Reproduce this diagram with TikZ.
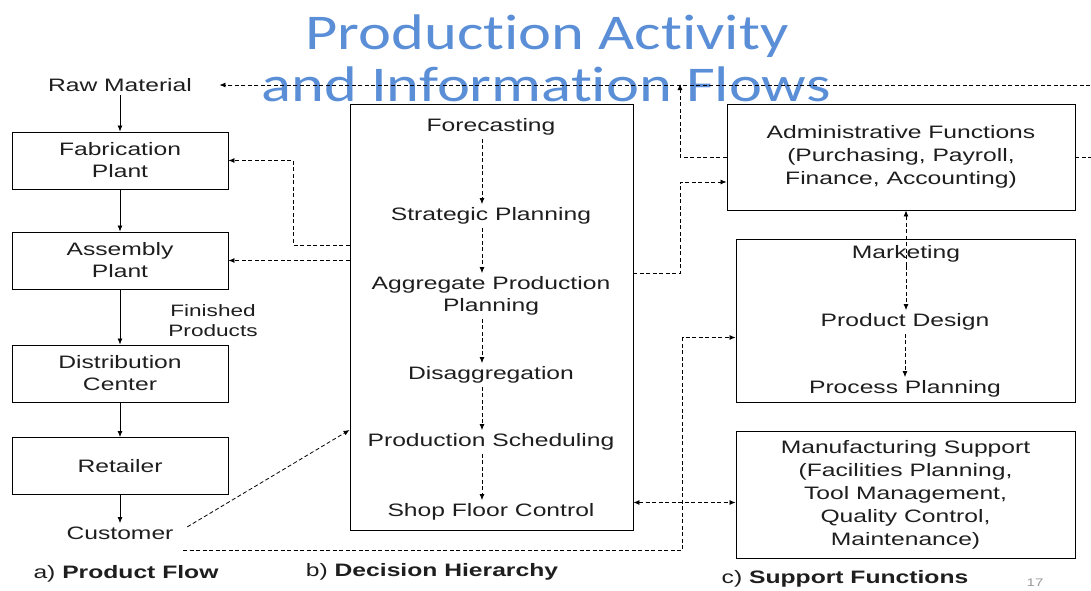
\documentclass[tikz,border=0pt]{standalone}
\usepackage{fontspec}
\setmainfont{Liberation Sans}[FakeStretch=1.37]
\newfontfamily\titlefont{Carlito}[FakeStretch=1.25, Ligatures=NoCommon]
\usetikzlibrary{arrows.meta,positioning}
\definecolor{titleblue}{RGB}{90,142,214}
\definecolor{ink}{RGB}{30,30,30}

\tikzset{
  txt/.style={align=center, text=ink, font=\fontsize{18}{22}\selectfont},
  box/.style={txt, draw, line width=0.9pt},
  pbox/.style={box, minimum width=216pt, minimum height=57pt},
  sbox/.style={box, minimum width=339pt},
  title/.style={text=titleblue, font=\titlefont\fontsize{50}{52}\selectfont},
  flow/.style={-{Latex[length=6pt,width=5pt]}, line width=0.8pt},
  info/.style={flow, dash pattern=on 4pt off 2.5pt},
}

\begin{document}
\begin{tikzpicture}[x=1pt,y=-1pt]
  \path[use as bounding box, clip] (0,0) rectangle (1091,590);

  % title
  \node[title, anchor=base] (title1) at (547,49) {Production Activity};
  \node[title, anchor=base] (title2) at (546,101) {and Information Flows};

  % a) product flow
  \node[txt] (raw) at (120,85) {Raw Material};
  \node[pbox] (fab) at (120,160.5) {Fabrication\\Plant};
  \node[pbox] (asm) at (120,260.5) {Assembly\\Plant};
  \node[txt, font=\fontsize{16.5}{20}\selectfont] (fin) at (213,321) {Finished\\Products};
  \node[pbox] (dist) at (120,373.5) {Distribution\\Center};
  \node[pbox] (ret) at (120,466) {Retailer};
  \node[txt] (cust) at (120,533) {Customer};
  \draw[flow] (raw) -- (fab);
  \draw[flow] (fab) -- (asm);
  \draw[flow] (asm) -- (dist);
  \draw[flow] (dist) -- (ret);
  \draw[flow] (ret) -- (cust);

  % b) decision hierarchy
  \node[box, minimum width=283pt, minimum height=426pt] (dec) at (491.5,317) {};
  \node[txt] (fc) at (491,127) {Forecasting};
  \node[txt] (sp) at (491,216) {Strategic Planning};
  \node[txt] (app) at (491,296) {Aggregate Production\\Planning};
  \node[txt] (dis) at (491,375) {Disaggregation};
  \node[txt] (ps) at (491,442) {Production Scheduling};
  \node[txt] (sfc) at (491,512) {Shop Floor Control};
  \draw[info] ([xshift=-9pt]fc.south) -- ([xshift=-9pt]sp.north);
  \draw[info] ([xshift=-9pt]sp.south) -- ([xshift=-9pt]app.north);
  \draw[info] ([xshift=-9pt]app.south) -- ([xshift=-9pt]dis.north);
  \draw[info] ([xshift=-9pt]dis.south) -- ([xshift=-9pt]ps.north);
  \draw[info] ([xshift=-9pt]ps.south) -- ([xshift=-9pt]sfc.north);

  % c) support functions
  \node[box, minimum width=348pt, minimum height=106pt, font=\fontsize{18}{23}\selectfont] (admin) at (901,157)
    {Administrative Functions\\(Purchasing, Payroll,\\Finance, Accounting)};
  \node[sbox, minimum height=163pt] (mkt) at (905.5,320.5) {};
  \node[txt] (mktg) at (906,254) {Marketing};
  \node[txt] (pd) at (905,322) {Product Design};
  \node[txt] (pp) at (905,389) {Process Planning};
  \node[sbox, minimum height=127pt, font=\fontsize{18}{23}\selectfont] (mfg) at (905.5,494.5)
    {Manufacturing Support\\(Facilities Planning,\\Tool Management,\\Quality Control,\\Maintenance)};
  \draw[info] (mktg.south) -- (mktg.south |- admin.south);
  \draw[info] (mktg.south) -- (mktg.south |- pd.north);
  \draw[info] (pd.south) -- (pd.south |- pp.north);

  % information flows
  \coordinate (top) at (680,84);
  \coordinate (mfgin) at ([yshift=-8pt]mfg.west);
  \coordinate (bl) at (183,550);
  \draw[info, shorten >=24pt] (admin.east) -- ++(30,0) |- (raw.east);
  \draw[info] (admin.west) -| (top);
  \draw[info] ([yshift=44pt]dec.east) -- ++(47,0) |- ([yshift=-25pt]admin.west);
  \draw[info] ([yshift=72pt]dec.west) -- ++(-56,0) |- (fab.east);
  \draw[info] (dec.west |- asm.east) -- (asm.east);
  \draw[info, shorten <=12pt] (cust.east) -- ([yshift=-113pt]dec.west);
  \draw[info, {Latex[length=6pt,width=5pt]}-{Latex[length=6pt,width=5pt]}] (dec.east |- mfgin) -- (mfgin);
  \draw[info] (bl) -| ([xshift=-53pt,yshift=-17pt]mkt.west) -- ([yshift=-17pt]mkt.west);

  % captions
  \node[txt] (capa) at (126,574) {a) \textbf{Product Flow}};
  \node[txt] (capb) at (432,572) {b) \textbf{Decision Hierarchy}};
  \node[txt] (capc) at (845,579) {c) \textbf{Support Functions}};
  \node[text=black!40, font=\fontsize{11}{12}\selectfont] (pg) at (1035,583) {17};
\end{tikzpicture}
\end{document}
